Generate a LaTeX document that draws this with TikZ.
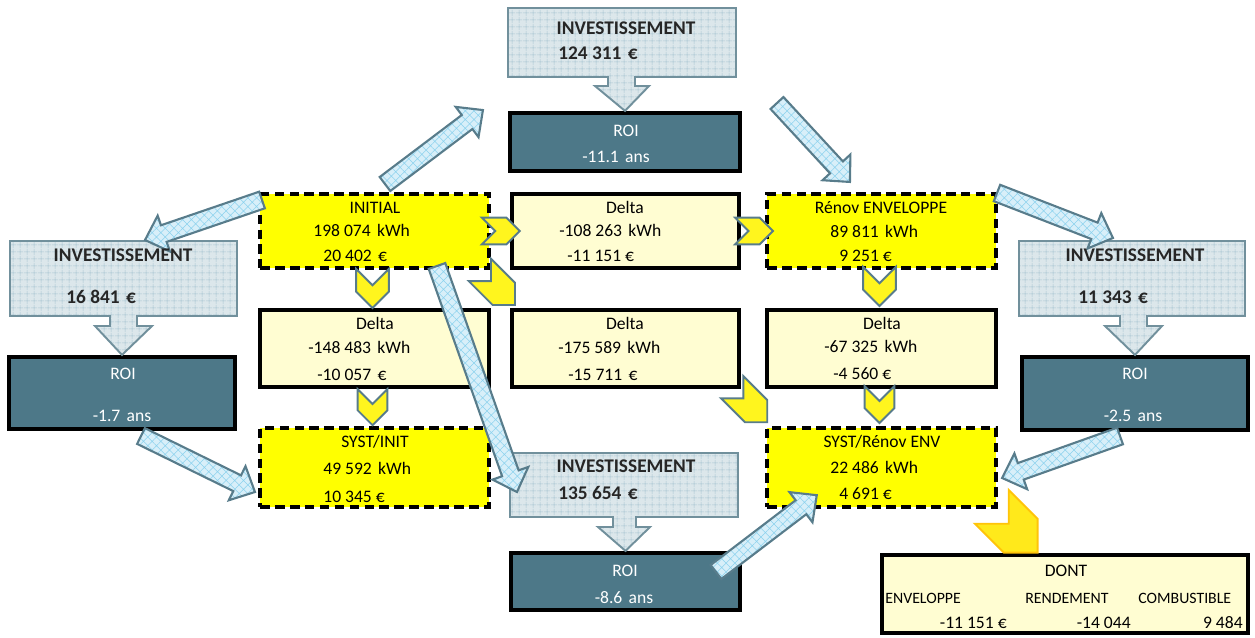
\documentclass[tikz,border=0pt]{standalone}
\usepackage{fontspec}
\setmainfont{Carlito}
\usetikzlibrary{calc,fit,patterns.meta}

\definecolor{jaune}{HTML}{FFFF00}
\definecolor{jaunepale}{HTML}{FFFDD2}
\definecolor{roibleu}{HTML}{4D7888}
\definecolor{ardoise}{HTML}{587C8B}
\definecolor{investfond}{HTML}{DCE7EB}
\definecolor{investgrille}{HTML}{A9C5D2}
\definecolor{flechefond}{HTML}{D8EFF9}
\definecolor{flechegrille}{HTML}{8CD2EE}
\definecolor{chevjaune}{HTML}{FFF51E}
\definecolor{orangebord}{HTML}{FFC40A}

\newcommand\esp{\hspace{3.6pt}}

\tikzset{
	etat/.style={draw=black, line width=2.1pt, dash pattern=on 5.5pt off 3pt, fill=jaune, inner sep=0pt},
	delta/.style={draw=black, line width=2.4pt, fill=jaunepale, inner sep=0pt},
	roi/.style={draw=black, line width=2.4pt, fill=roibleu, inner sep=0pt},
	invest/.style={draw=ardoise!85, line width=1.1pt, line join=miter, preaction={fill=investfond},
		pattern={Hatch[angle=0,distance=4pt,line width=0.25pt]}, pattern color=investgrille},
	fleche/.style={draw=ardoise, line width=1.2pt, line join=miter, preaction={fill=flechefond},
		pattern={Hatch[angle=45,distance=3.5pt,line width=0.3pt]}, pattern color=flechegrille},
	chev/.style={draw=ardoise, line width=1.1pt, fill=chevjaune, line join=miter},
	grandchev/.style={draw=orangebord, line width=1.1pt, fill=chevjaune!90!orange, line join=miter},
	txt/.style={font=\fontsize{10}{12}\selectfont, inner sep=0pt},
	gras/.style={font=\bfseries\fontsize{11}{13}\selectfont, inner sep=0pt, text=black!85},
	petit/.style={font=\fontsize{9}{11}\selectfont, inner sep=0pt},
	blanc/.style={txt, text=white},
}

% grosse fleche d'un point a un autre
\newcommand\grossefleche[2]{%
	\path[fleche] let \p1=($(#2)-(#1)$), \n1={atan2(\y1,\x1)}, \n2={veclen(\x1,\y1)-11.3}, \n3={veclen(\x1,\y1)} in
		[shift={(#1)}, rotate=\n1]
		(0pt,-5pt) -- (\n2,-5pt) -- (\n2,-10.8pt) -- (\n3,0pt) -- (\n2,10.8pt) -- (\n2,5pt) -- (0pt,5pt) -- cycle;}

% chevron : style, arriere, angle, demi-largeur, corps
\newcommand\chevron[5]{%
	\draw[#1, shift={#2}, rotate=#3]
		(0pt,#4pt) -- (#5pt,#4pt) -- (#5pt+#4pt,0pt) -- (#5pt,-#4pt) -- (0pt,-#4pt) -- (#4pt,0pt) -- cycle;}

\begin{document}
\begin{tikzpicture}[x=0.02cm,y=-0.02cm]
	\useasboundingbox (0,0) rectangle (1255,637);
	
	% boites
	\node[roi, fit={(510,113) (740,171)}] (roiH) {};
	\node[roi, fit={(9,357) (235,429)}] (roiG) {};
	\node[roi, fit={(1022,357) (1248,430)}] (roiD) {};
	\node[roi, fit={(511,553) (740,610)}] (roiB) {};
	
	\node[etat, fit={(260,194) (489,268)}] (init) {};
	\node[delta, fit={(512,194) (739,268)}] (dtop) {};
	\node[etat, fit={(767,194) (996,268)}] (renov) {};
	\node[delta, fit={(260,310) (489,387)}] (dleft) {};
	\node[delta, fit={(512,310) (739,387)}] (dmid) {};
	\node[delta, fit={(767,310) (996,387)}] (dright) {};
	\node[etat, fit={(260,428) (489,507)}] (sysi) {};
	\node[etat, fit={(767,428) (996,507)}] (sysr) {};
	\node[delta, fit={(882,555) (1248,633)}] (dont) {};
	
	% encarts investissement
	\draw[invest] (508,8) -- (736,8) -- (736,77) -- (635,77) -- (635,86) -- (649,86) -- (roiH.north)
		-- (595,86) -- (608,86) -- (608,77) -- (508,77) -- cycle;
	\draw[invest] (10,241) -- (237,241) -- (237,316) -- (137,316) -- (137,326) -- (152,326) -- (roiG.north)
		-- (95,326) -- (110,326) -- (110,316) -- (10,316) -- cycle;
	\draw[invest] (1019,241) -- (1245,241) -- (1245,316) -- (1147,316) -- (1147,326) -- (1162,326) -- (roiD.north)
		-- (1105,326) -- (1120,326) -- (1120,316) -- (1019,316) -- cycle;
	\draw[invest] (510,453) -- (738,453) -- (738,517) -- (636,517) -- (636,527) -- (650,527) -- (roiB.north)
		-- (598,527) -- (613,527) -- (613,517) -- (510,517) -- cycle;
	
	% grosses fleches
	\coordinate (f1a) at (385,184); \coordinate (f1b) at (483,110);
	\coordinate (f2a) at (777,103); \coordinate (f2b) at (850,182);
	\coordinate (f3a) at (997,193); \coordinate (f3b) at (1113,238);
	\coordinate (f4a) at (262,200); \coordinate (f4b) at (145,240);
	\coordinate (f5a) at (141,436); \coordinate (f5b) at (255,492);
	\coordinate (f6a) at (437,266); \coordinate (f6b) at (517,492);
	\coordinate (f7a) at (716,572); \coordinate (f7b) at (817,495);
	\coordinate (f8a) at (1120,436); \coordinate (f8b) at (1002,478);
	\grossefleche{f1a}{f1b}
	\grossefleche{f2a}{f2b}
	\grossefleche{f3a}{f3b}
	\grossefleche{f4a}{f4b}
	\grossefleche{f5a}{f5b}
	\grossefleche{f6a}{f6b}
	\grossefleche{f7a}{f7b}
	\grossefleche{f8a}{f8b}
	
	% chevrons
	\chevron{chev}{($(init.east)+(-9,0)$)}{0}{7.6}{14}
	\chevron{chev}{($(dtop.east)+(-6,0)$)}{0}{7.6}{14}
	\chevron{chev}{($(init.south)+(-2,-1)$)}{-90}{9.3}{13}
	\chevron{chev}{($(dleft.south)+(-2,0)$)}{-90}{8.5}{12}
	\chevron{chev}{($(renov.south)+(-2,-3)$)}{-90}{9.3}{13}
	\chevron{chev}{($(dright.south)+(-2,-3)$)}{-90}{8.5}{12.5}
	\chevron{chev}{($(init.south east)+(-11,0)$)}{-45}{9}{19.3}
	\chevron{chev}{($(dmid.south east)+(-9,-2)$)}{-45}{9}{19.3}
	\chevron{grandchev}{($(sysr.south east)+(-6,-2)$)}{-45}{13.6}{23.2}
	
	% textes
	\node[gras, anchor=base] (tH1) at (626,34) {INVESTISSEMENT};
	\node[gras, anchor=base west] (tH2) at (558,59) {124 311\esp €};
	\node[blanc, anchor=base] (rH1) at (626,136) {ROI};
	\node[blanc, anchor=base west] (rH2) at (582,162) {-11.1\esp ans};
	
	\node[txt, anchor=base] (i1) at (375,213) {INITIAL};
	\node[txt, anchor=base west] (i2) at (313,236) {198 074\esp kWh};
	\node[txt, anchor=base west] (i3) at (323,261) {20 402\esp €};
	
	\node[txt, anchor=base] (d1) at (625,213) {Delta};
	\node[txt, anchor=base west] (d2) at (559,236) {-108 263\esp kWh};
	\node[txt, anchor=base west] (d3) at (567,261) {-11 151 €};
	
	\node[txt, anchor=base] (e1) at (881,213) {Rénov ENVELOPPE};
	\node[txt, anchor=base west] (e2) at (830,237) {89 811\esp kWh};
	\node[txt, anchor=base west] (e3) at (839,261) {9 251 €};
	
	\node[gras, anchor=base] (tG1) at (123,261) {INVESTISSEMENT};
	\node[gras, anchor=base west] (tG2) at (66,303) {16 841\esp €};
	\node[blanc, anchor=base] (rG1) at (123,379) {ROI};
	\node[blanc, anchor=base] (rG2) at (122,421) {-1.7\esp ans};
	
	\node[gras, anchor=base] (tD1) at (1135,261) {INVESTISSEMENT};
	\node[gras, anchor=base west] (tD2) at (1078,303) {11 343\esp €};
	\node[blanc, anchor=base] (rD1) at (1135,379) {ROI};
	\node[blanc, anchor=base] (rD2) at (1133,421) {-2.5\esp ans};
	
	\node[txt, anchor=base] (g1) at (375,329) {Delta};
	\node[txt, anchor=base west] (g2) at (308,353) {-148 483\esp kWh};
	\node[txt, anchor=base west] (g3) at (317,380) {-10 057\esp €};
	
	\node[txt, anchor=base] (m1) at (625,329) {Delta};
	\node[txt, anchor=base west] (m2) at (558,353) {-175 589\esp kWh};
	\node[txt, anchor=base west] (m3) at (568,380) {-15 711\esp €};
	
	\node[txt, anchor=base] (r1) at (882,329) {Delta};
	\node[txt, anchor=base west] (r2) at (824,352) {-67 325\esp kWh};
	\node[txt, anchor=base west] (r3) at (833,379) {-4 560 €};
	
	\node[txt, anchor=base] (s1) at (375,447) {SYST/INIT};
	\node[txt, anchor=base west] (s2) at (323,474) {49 592\esp kWh};
	\node[txt, anchor=base west] (s3) at (323,502) {10 345 €};
	
	\node[txt, anchor=base] (v1) at (882,447) {SYST/Rénov ENV};
	\node[txt, anchor=base west] (v2) at (830,473) {22 486\esp kWh};
	\node[txt, anchor=base west] (v3) at (839,499) {4 691 €};
	
	\node[gras, anchor=base] (tB1) at (626,472) {INVESTISSEMENT};
	\node[gras, anchor=base west] (tB2) at (558,499) {135 654\esp €};
	\node[blanc, anchor=base] (rB1) at (625,576) {ROI};
	\node[blanc, anchor=base] (rB2) at (624,603) {-8.6\esp ans};
	
	\node[txt, anchor=base] (n1) at (1066,576) {DONT};
	\node[petit, anchor=base west] (n2) at (885,603) {ENVELOPPE};
	\node[petit, anchor=base west] (n3) at (1025,603) {RENDEMENT};
	\node[petit, anchor=base west] (n4) at (1138,603) {COMBUSTIBLE};
	\node[txt, anchor=base east] (n5) at (1007,628) {-11 151 €};
	\node[txt, anchor=base east] (n6) at (1131,628) {-14 044};
	\node[txt, anchor=base east] (n7) at (1243,628) {9 484};
\end{tikzpicture}
\end{document}
